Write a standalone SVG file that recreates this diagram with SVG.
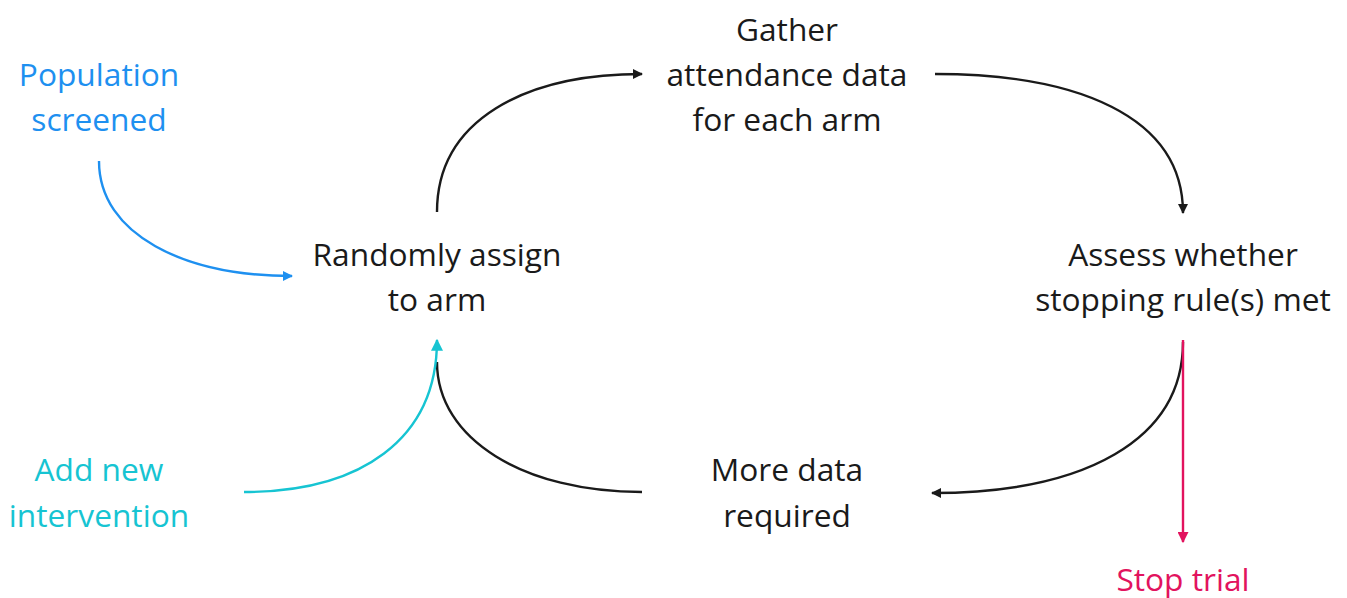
<svg xmlns="http://www.w3.org/2000/svg" width="1347" height="598" viewBox="0 0 1347 598">
<defs>
<style>
text{font-family:"Open Sans","Noto Sans","Liberation Sans",sans-serif;font-size:31.7px;text-anchor:middle}
.k{fill:#1a1a1a}
.b{fill:#1e90f0}
.c{fill:#16c4d2}
.p{fill:#e2135e}
.ln{fill:none;stroke-width:2.4}
</style>
<marker id="ak" viewBox="0 0 10 10" refX="9" refY="5" markerWidth="10" markerHeight="10" markerUnits="userSpaceOnUse" orient="auto"><path d="M0,0 L10,5 L0,10 z" fill="#1a1a1a"/></marker>
<marker id="ab" viewBox="0 0 10 10" refX="9" refY="5" markerWidth="10" markerHeight="10" markerUnits="userSpaceOnUse" orient="auto"><path d="M0,0 L10,5 L0,10 z" fill="#1e90f0"/></marker>
<marker id="ac" viewBox="0 0 10 10" refX="9" refY="5" markerWidth="12" markerHeight="12" markerUnits="userSpaceOnUse" orient="auto"><path d="M0,0 L10,5 L0,10 z" fill="#16c4d2"/></marker>
<marker id="ap" viewBox="0 0 10 10" refX="9" refY="5" markerWidth="11" markerHeight="11" markerUnits="userSpaceOnUse" orient="auto"><path d="M0,0 L10,5 L0,10 z" fill="#e2135e"/></marker>
</defs>
<rect width="1347" height="598" fill="#ffffff"/>
<g id="connectors">
<path class="ln" stroke="#1e90f0" d="M99,161 C99,235 185,276 292,276" marker-end="url(#ab)"/>
<path class="ln" stroke="#1a1a1a" d="M437,212 C437,120 525,74 642,74" marker-end="url(#ak)"/>
<path class="ln" stroke="#1a1a1a" d="M935,74 C1075,74 1183,115 1183,213" marker-end="url(#ak)"/>
<path class="ln" stroke="#1a1a1a" d="M1183,342 C1183,440 1085,493 932,493" marker-end="url(#ak)"/>
<path class="ln" stroke="#1a1a1a" d="M642,492 C525,492 437,440 437,362"/>
<path class="ln" stroke="#16c4d2" d="M244,492 C360,492 437,440 437,340" marker-end="url(#ac)"/>
<path class="ln" stroke="#e2135e" d="M1183,340 L1183,542" marker-end="url(#ap)"/>
</g>
<g id="population"><text class="b" x="99" y="86">Population</text><text class="b" x="99" y="131">screened</text></g>
<g id="randomly"><text class="k" x="437" y="266">Randomly assign</text><text class="k" x="437" y="311">to arm</text></g>
<g id="gather"><text class="k" x="787" y="41">Gather</text><text class="k" x="787" y="86">attendance data</text><text class="k" x="787" y="131">for each arm</text></g>
<g id="assess"><text class="k" x="1183" y="266">Assess whether</text><text class="k" x="1183" y="311">stopping rule(s) met</text></g>
<g id="more"><text class="k" x="787" y="481">More data</text><text class="k" x="787" y="527">required</text></g>
<g id="addnew"><text class="c" x="99" y="481">Add new</text><text class="c" x="99" y="527">intervention</text></g>
<g id="stop"><text class="p" x="1183" y="591">Stop trial</text></g>
</svg>
